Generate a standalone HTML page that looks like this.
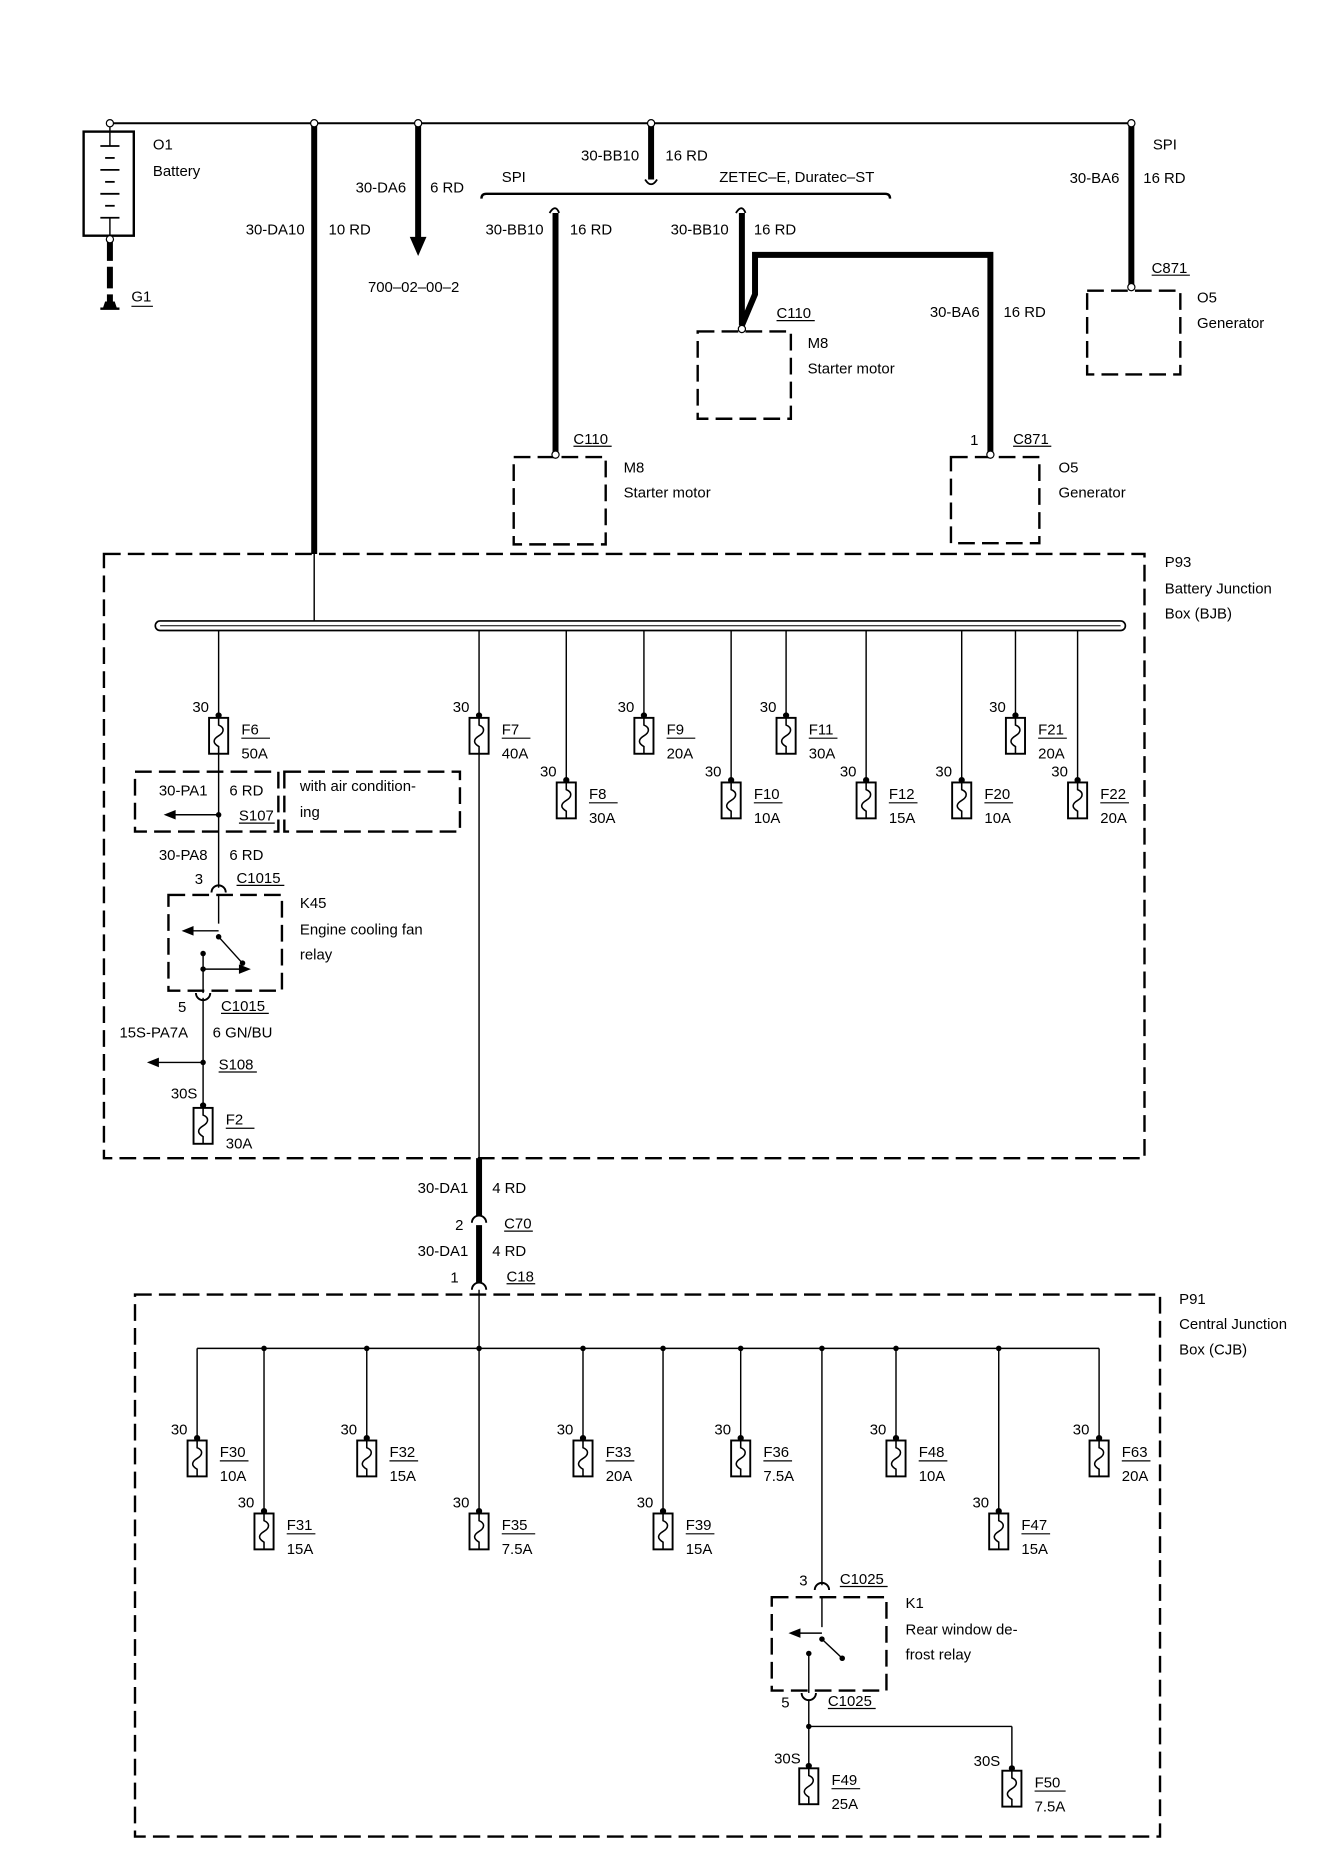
<!DOCTYPE html>
<html><head><meta charset="utf-8"><style>
html,body{margin:0;padding:0;background:#fff;}
svg{display:block;}
text{font-family:"Liberation Sans",Arial,sans-serif;font-size:12.5px;fill:#000;}
</style></head><body>
<svg width="1344" height="1876" viewBox="0 0 1125 1568" preserveAspectRatio="none" xmlns="http://www.w3.org/2000/svg">
<defs>
<g id="fu"><circle cx="0" cy="0" r="2.6" fill="#000"/><rect x="-8" y="2" width="16" height="30" fill="#fff" stroke="#000" stroke-width="1.6"/><path d="M0,2 v6 c5,2 5,6 0,9 c-5,3 -5,6 0,9 v6" fill="none" stroke="#000" stroke-width="1.3"/></g>
</defs>
<g fill="none" stroke="#000">
<!-- top wire -->
<line x1="92" y1="103" x2="947" y2="103" stroke-width="1.6"/>
<!-- battery -->
<rect x="70" y="110" width="42" height="87" stroke-width="2"/>
<line x1="92" y1="103" x2="92" y2="122" stroke-width="1.2"/>
<line x1="84" y1="122" x2="100" y2="122" stroke-width="1.5"/>
<line x1="88" y1="132" x2="96" y2="132" stroke-width="1.5"/>
<line x1="84" y1="142" x2="100" y2="142" stroke-width="1.5"/>
<line x1="88" y1="152" x2="96" y2="152" stroke-width="1.5"/>
<line x1="84" y1="162" x2="100" y2="162" stroke-width="1.5"/>
<line x1="88" y1="172" x2="96" y2="172" stroke-width="1.5"/>
<line x1="84" y1="182" x2="100" y2="182" stroke-width="1.5"/>
<line x1="92" y1="182" x2="92" y2="200" stroke-width="1.2"/>
<line x1="92" y1="200" x2="92" y2="255" stroke-width="5" stroke-dasharray="18,5"/>
<!-- 30-DA10 -->
<line x1="263" y1="103" x2="263" y2="463" stroke-width="5"/>
<line x1="263" y1="463" x2="263" y2="519" stroke-width="1.2"/>
<!-- 30-DA6 -->
<line x1="350" y1="103" x2="350" y2="200" stroke-width="5"/>
<!-- 30-BB10 top -->
<line x1="545" y1="103" x2="545" y2="150" stroke-width="5"/>
<path d="M540,150 q5,8 10,0" stroke-width="1.5"/>
<path d="M403,166 q0,-4 4,-4 H741 q4,0 4,4" stroke-width="2"/>
<!-- left branch -->
<path d="M460,178 q5,-8 8,0" stroke-width="1.5"/>
<line x1="465" y1="178" x2="465" y2="380" stroke-width="5"/>
<!-- middle branch -->
<path d="M616,178 q5,-8 8,0" stroke-width="1.5"/>
<path d="M621,178 V272 L632,246 V213 H829 V380" stroke-width="5" stroke-linejoin="miter"/>
<!-- right SPI -->
<line x1="947" y1="103" x2="947" y2="240" stroke-width="5"/>
<!-- component boxes -->
<g stroke-width="2" stroke-dasharray="14,6">
<rect x="430" y="382" width="77" height="73"/>
<rect x="584" y="277" width="78" height="73"/>
<rect x="796" y="382" width="74" height="72"/>
<rect x="910" y="243" width="78" height="70"/>
<!-- BJB -->
<rect x="87" y="463" width="871" height="505"/>
<rect x="113" y="645" width="120" height="50"/>
<rect x="238" y="645" width="147" height="50"/>
<rect x="141" y="748" width="95" height="80"/>
<!-- CJB -->
<rect x="113" y="1082" width="858" height="453"/>
<rect x="646" y="1335" width="96" height="78"/>
</g>
<!-- busbar -->
<rect x="130" y="519" width="812" height="8" rx="4" stroke-width="1.4"/>
<line x1="134" y1="523" x2="938" y2="523" stroke-width="0.8"/>
<!-- BJB drops -->
<g stroke-width="1.2">
<line x1="183" y1="527" x2="183" y2="598"/>
<line x1="401" y1="527" x2="401" y2="598"/>
<line x1="474" y1="527" x2="474" y2="652"/>
<line x1="539" y1="527" x2="539" y2="598"/>
<line x1="612" y1="527" x2="612" y2="652"/>
<line x1="658" y1="527" x2="658" y2="598"/>
<line x1="725" y1="527" x2="725" y2="652"/>
<line x1="805" y1="527" x2="805" y2="652"/>
<line x1="850" y1="527" x2="850" y2="598"/>
<line x1="902" y1="527" x2="902" y2="652"/>
<line x1="401" y1="630" x2="401" y2="968"/>
<!-- F6 branch -->
<line x1="183" y1="630" x2="183" y2="742"/>
<line x1="183" y1="681" x2="145" y2="681"/>
<line x1="183" y1="748" x2="183" y2="772"/>
<line x1="183" y1="778" x2="158" y2="778"/>
<line x1="183" y1="783" x2="202" y2="804"/>
<line x1="170" y1="797" x2="170" y2="830"/>
<line x1="170" y1="810" x2="202" y2="810"/>
<line x1="170" y1="834" x2="170" y2="924"/>
<line x1="170" y1="888" x2="130" y2="888"/>
</g>
<path d="M177,746 a6,6 0 0 1 12,0" stroke-width="1.6"/>
<path d="M164,830 a6,6 0 0 0 12,0" stroke-width="1.6"/>
<!-- between boxes -->
<line x1="401" y1="968" x2="401" y2="1016" stroke-width="5"/>
<line x1="401" y1="1024" x2="401" y2="1072" stroke-width="5"/>
<path d="M395,1022 a6,6 0 0 1 12,0" stroke-width="1.6"/>
<path d="M395,1078 a6,6 0 0 1 12,0" stroke-width="1.6"/>
<line x1="401" y1="1078" x2="401" y2="1127" stroke-width="1.2"/>
<!-- CJB bus -->
<g stroke-width="1.2">
<line x1="165" y1="1127" x2="920" y2="1127"/>
<line x1="165" y1="1127" x2="165" y2="1202"/>
<line x1="221" y1="1127" x2="221" y2="1263"/>
<line x1="307" y1="1127" x2="307" y2="1202"/>
<line x1="401" y1="1127" x2="401" y2="1263"/>
<line x1="488" y1="1127" x2="488" y2="1202"/>
<line x1="555" y1="1127" x2="555" y2="1263"/>
<line x1="620" y1="1127" x2="620" y2="1202"/>
<line x1="688" y1="1127" x2="688" y2="1325"/>
<line x1="750" y1="1127" x2="750" y2="1202"/>
<line x1="836" y1="1127" x2="836" y2="1263"/>
<line x1="920" y1="1127" x2="920" y2="1202"/>
<line x1="688" y1="1335" x2="688" y2="1360"/>
<line x1="688" y1="1365" x2="666" y2="1365"/>
<line x1="688" y1="1370" x2="705" y2="1386"/>
<line x1="677" y1="1382" x2="677" y2="1415"/>
<line x1="677" y1="1421" x2="677" y2="1476"/>
<line x1="677" y1="1443" x2="847" y2="1443"/>
<line x1="847" y1="1443" x2="847" y2="1478"/>
</g>
<path d="M682,1329 a6,6 0 0 1 12,0" stroke-width="1.6"/>
<path d="M671,1415 a6,6 0 0 0 12,0" stroke-width="1.6"/>
<!-- underlines -->
<g stroke-width="1">
<line x1="110" y1="256" x2="128" y2="256"/>
<line x1="480" y1="373" x2="512" y2="373"/>
<line x1="650" y1="268" x2="682" y2="268"/>
<line x1="848" y1="373" x2="880" y2="373"/>
<line x1="964" y1="230" x2="996" y2="230"/>
<line x1="200" y1="688" x2="230" y2="688"/>
<line x1="198" y1="740" x2="238" y2="740"/>
<line x1="185" y1="847" x2="225" y2="847"/>
<line x1="183" y1="896" x2="215" y2="896"/>
<line x1="422" y1="1029" x2="446" y2="1029"/>
<line x1="424" y1="1073" x2="448" y2="1073"/>
<line x1="703" y1="1326" x2="743" y2="1326"/>
<line x1="693" y1="1428" x2="733" y2="1428"/>
</g>
</g>
<!-- filled items -->
<g fill="#000">
<circle cx="92" cy="103" r="3" fill="#fff" stroke="#000"/>
<circle cx="263" cy="103" r="3" fill="#fff" stroke="#000"/>
<circle cx="350" cy="103" r="3" fill="#fff" stroke="#000"/>
<circle cx="545" cy="103" r="3" fill="#fff" stroke="#000"/>
<circle cx="947" cy="103" r="3" fill="#fff" stroke="#000"/>
<circle cx="92" cy="200" r="3" fill="#fff" stroke="#000"/>
<circle cx="465" cy="380" r="3" fill="#fff" stroke="#000"/>
<circle cx="621" cy="275" r="3" fill="#fff" stroke="#000"/>
<circle cx="829" cy="380" r="3" fill="#fff" stroke="#000"/>
<circle cx="947" cy="240" r="3" fill="#fff" stroke="#000"/>
<polygon points="343,198 357,198 350,214"/>
<polygon points="86,258 98,258 96,252 88,252"/>
<rect x="84" y="257" width="16" height="2"/>
<polygon points="137,681 147,677 147,685"/>
<polygon points="152,778 162,774 162,782"/>
<polygon points="210,810 200,806 200,814"/>
<polygon points="123,888 133,884 133,892"/>
<polygon points="660,1365 670,1361 670,1369"/>
<circle cx="183" cy="681" r="2.3"/><circle cx="183" cy="783" r="2.3"/><circle cx="203" cy="805" r="2.3"/>
<circle cx="170" cy="797" r="2.3"/><circle cx="170" cy="810" r="2.3"/><circle cx="170" cy="888" r="2.3"/>
<circle cx="688" cy="1370" r="2.3"/><circle cx="705" cy="1386" r="2.3"/><circle cx="677" cy="1382" r="2.3"/>
<circle cx="677" cy="1443" r="2.3"/>
<circle cx="221" cy="1127" r="2.3"/><circle cx="307" cy="1127" r="2.3"/><circle cx="401" cy="1127" r="2.3"/>
<circle cx="488" cy="1127" r="2.3"/><circle cx="555" cy="1127" r="2.3"/><circle cx="620" cy="1127" r="2.3"/>
<circle cx="688" cy="1127" r="2.3"/><circle cx="750" cy="1127" r="2.3"/><circle cx="836" cy="1127" r="2.3"/>
</g>
<!-- fuses -->
<use href="#fu" x="183" y="598"/><use href="#fu" x="401" y="598"/><use href="#fu" x="539" y="598"/>
<use href="#fu" x="658" y="598"/><use href="#fu" x="850" y="598"/>
<use href="#fu" x="474" y="652"/><use href="#fu" x="612" y="652"/><use href="#fu" x="725" y="652"/>
<use href="#fu" x="805" y="652"/><use href="#fu" x="902" y="652"/>
<use href="#fu" x="170" y="924"/>
<use href="#fu" x="165" y="1202"/><use href="#fu" x="307" y="1202"/><use href="#fu" x="488" y="1202"/>
<use href="#fu" x="620" y="1202"/><use href="#fu" x="750" y="1202"/><use href="#fu" x="920" y="1202"/>
<use href="#fu" x="221" y="1263"/><use href="#fu" x="401" y="1263"/><use href="#fu" x="555" y="1263"/>
<use href="#fu" x="836" y="1263"/>
<use href="#fu" x="677" y="1476"/><use href="#fu" x="847" y="1478"/>
<!-- fuse labels -->
<g stroke="#000" stroke-width="1">
<line x1="202" y1="617" x2="226" y2="617"/><line x1="420" y1="617" x2="444" y2="617"/><line x1="558" y1="617" x2="582" y2="617"/>
<line x1="677" y1="617" x2="701" y2="617"/><line x1="869" y1="617" x2="893" y2="617"/>
<line x1="493" y1="671" x2="517" y2="671"/><line x1="631" y1="671" x2="655" y2="671"/><line x1="744" y1="671" x2="768" y2="671"/>
<line x1="824" y1="671" x2="848" y2="671"/><line x1="921" y1="671" x2="945" y2="671"/>
<line x1="189" y1="943" x2="213" y2="943"/>
<line x1="184" y1="1221" x2="208" y2="1221"/><line x1="326" y1="1221" x2="350" y2="1221"/><line x1="507" y1="1221" x2="531" y2="1221"/>
<line x1="639" y1="1221" x2="663" y2="1221"/><line x1="769" y1="1221" x2="793" y2="1221"/><line x1="939" y1="1221" x2="963" y2="1221"/>
<line x1="240" y1="1282" x2="264" y2="1282"/><line x1="420" y1="1282" x2="448" y2="1282"/><line x1="574" y1="1282" x2="598" y2="1282"/>
<line x1="855" y1="1282" x2="879" y2="1282"/>
<line x1="696" y1="1495" x2="720" y2="1495"/><line x1="866" y1="1497" x2="892" y2="1497"/>
</g>
<g>
<text x="161" y="595">30</text><text x="202" y="614">F6</text><text x="202" y="634">50A</text>
<text x="379" y="595">30</text><text x="420" y="614">F7</text><text x="420" y="634">40A</text>
<text x="517" y="595">30</text><text x="558" y="614">F9</text><text x="558" y="634">20A</text>
<text x="636" y="595">30</text><text x="677" y="614">F11</text><text x="677" y="634">30A</text>
<text x="828" y="595">30</text><text x="869" y="614">F21</text><text x="869" y="634">20A</text>
<text x="452" y="649">30</text><text x="493" y="668">F8</text><text x="493" y="688">30A</text>
<text x="590" y="649">30</text><text x="631" y="668">F10</text><text x="631" y="688">10A</text>
<text x="703" y="649">30</text><text x="744" y="668">F12</text><text x="744" y="688">15A</text>
<text x="783" y="649">30</text><text x="824" y="668">F20</text><text x="824" y="688">10A</text>
<text x="880" y="649">30</text><text x="921" y="668">F22</text><text x="921" y="688">20A</text>
<text x="143" y="918">30S</text><text x="189" y="940">F2</text><text x="189" y="960">30A</text>
<text x="143" y="1199">30</text><text x="184" y="1218">F30</text><text x="184" y="1238">10A</text>
<text x="285" y="1199">30</text><text x="326" y="1218">F32</text><text x="326" y="1238">15A</text>
<text x="466" y="1199">30</text><text x="507" y="1218">F33</text><text x="507" y="1238">20A</text>
<text x="598" y="1199">30</text><text x="639" y="1218">F36</text><text x="639" y="1238">7.5A</text>
<text x="728" y="1199">30</text><text x="769" y="1218">F48</text><text x="769" y="1238">10A</text>
<text x="898" y="1199">30</text><text x="939" y="1218">F63</text><text x="939" y="1238">20A</text>
<text x="199" y="1260">30</text><text x="240" y="1279">F31</text><text x="240" y="1299">15A</text>
<text x="379" y="1260">30</text><text x="420" y="1279">F35</text><text x="420" y="1299">7.5A</text>
<text x="533" y="1260">30</text><text x="574" y="1279">F39</text><text x="574" y="1299">15A</text>
<text x="814" y="1260">30</text><text x="855" y="1279">F47</text><text x="855" y="1299">15A</text>
<text x="648" y="1474">30S</text><text x="696" y="1492">F49</text><text x="696" y="1512">25A</text>
<text x="815" y="1476">30S</text><text x="866" y="1494">F50</text><text x="866" y="1514">7.5A</text>
</g>
<!-- other labels -->
<g>
<text x="128" y="125">O1</text><text x="128" y="147">Battery</text>
<text x="110" y="252">G1</text>
<text x="255" y="196" text-anchor="end">30-DA10</text><text x="275" y="196">10 RD</text>
<text x="340" y="161" text-anchor="end">30-DA6</text><text x="360" y="161">6 RD</text>
<text x="308" y="244">700–02–00–2</text>
<text x="535" y="134" text-anchor="end">30-BB10</text><text x="557" y="134">16 RD</text>
<text x="420" y="152">SPI</text><text x="602" y="152">ZETEC–E, Duratec–ST</text>
<text x="455" y="196" text-anchor="end">30-BB10</text><text x="477" y="196">16 RD</text>
<text x="610" y="196" text-anchor="end">30-BB10</text><text x="631" y="196">16 RD</text>
<text x="480" y="371">C110</text><text x="522" y="395">M8</text><text x="522" y="416">Starter motor</text>
<text x="650" y="266">C110</text><text x="676" y="291">M8</text><text x="676" y="312">Starter motor</text>
<text x="820" y="265" text-anchor="end">30-BA6</text><text x="840" y="265">16 RD</text>
<text x="812" y="372">1</text><text x="848" y="371">C871</text><text x="886" y="395">O5</text><text x="886" y="416">Generator</text>
<text x="965" y="125">SPI</text><text x="937" y="153" text-anchor="end">30-BA6</text><text x="957" y="153">16 RD</text>
<text x="964" y="228">C871</text><text x="1002" y="253">O5</text><text x="1002" y="274">Generator</text>
<text x="975" y="474">P93</text><text x="975" y="496">Battery Junction</text><text x="975" y="517">Box (BJB)</text>
<text x="133" y="665">30-PA1</text><text x="192" y="665">6 RD</text><text x="200" y="686">S107</text>
<text x="251" y="661">with air condition-</text><text x="251" y="683">ing</text>
<text x="133" y="719">30-PA8</text><text x="192" y="719">6 RD</text>
<text x="163" y="739">3</text><text x="198" y="738">C1015</text>
<text x="251" y="759">K45</text><text x="251" y="781">Engine cooling fan</text><text x="251" y="802">relay</text>
<text x="149" y="846">5</text><text x="185" y="845">C1015</text>
<text x="100" y="867">15S-PA7A</text><text x="178" y="867">6 GN/BU</text>
<text x="183" y="894">S108</text>
<text x="392" y="997" text-anchor="end">30-DA1</text><text x="412" y="997">4 RD</text>
<text x="381" y="1028">2</text><text x="422" y="1027">C70</text>
<text x="392" y="1050" text-anchor="end">30-DA1</text><text x="412" y="1050">4 RD</text>
<text x="377" y="1072">1</text><text x="424" y="1071">C18</text>
<text x="987" y="1090">P91</text><text x="987" y="1111">Central Junction</text><text x="987" y="1132">Box (CJB)</text>
<text x="669" y="1325">3</text><text x="703" y="1324">C1025</text>
<text x="758" y="1344">K1</text><text x="758" y="1366">Rear window de-</text><text x="758" y="1387">frost relay</text>
<text x="654" y="1427">5</text><text x="693" y="1426">C1025</text>
</g>
</svg>
</body></html>
